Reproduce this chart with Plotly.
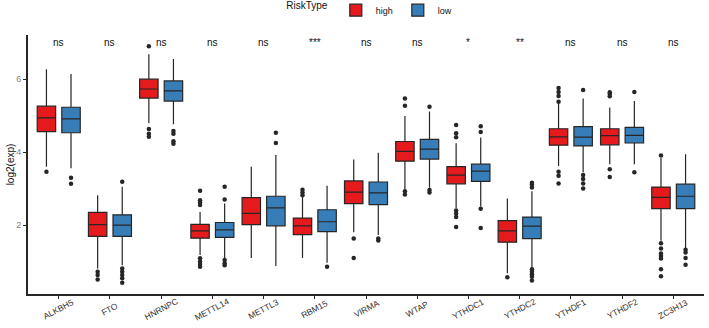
import plotly.graph_objects as go

genes = ["ALKBH5", "FTO", "HNRNPC", "METTL14", "METTL3", "RBM15", "VIRMA",
         "WTAP", "YTHDC1", "YTHDC2", "YTHDF1", "YTHDF2", "ZC3H13"]
signif = ["ns", "ns", "ns", "ns", "ns", "***", "ns", "ns", "*", "**", "ns", "ns", "ns"]

# high-risk group box statistics
high_lower = [3.60, 0.81, 4.79, 1.18, 1.10, 1.10, 1.80, 2.99, 2.46, 0.68, 3.62, 3.67, 1.57]
high_q1 = [4.56, 1.69, 5.48, 1.64, 2.01, 1.74, 2.59, 3.75, 3.13, 1.53, 4.19, 4.20, 2.45]
high_median = [4.94, 2.01, 5.73, 1.84, 2.32, 1.98, 2.90, 4.02, 3.37, 1.84, 4.42, 4.45, 2.76]
high_q3 = [5.26, 2.35, 6.00, 2.02, 2.75, 2.19, 3.21, 4.29, 3.60, 2.12, 4.64, 4.64, 3.04]
high_upper = [6.27, 2.82, 6.68, 2.36, 3.60, 2.77, 3.80, 4.99, 4.24, 2.73, 5.33, 5.22, 3.84]
high_outliers = [
    [3.46],
    [0.72, 0.63, 0.51],
    [6.90, 4.63, 4.50, 4.42],
    [2.94, 2.68, 2.62, 2.55, 1.09, 1.00, 0.93, 0.86],
    [],
    [2.97, 2.89, 2.82],
    [1.63, 1.10],
    [5.47, 5.27, 2.93, 2.84],
    [4.74, 4.52, 4.41, 2.40, 2.32, 2.22, 1.95],
    [0.57],
    [5.76, 5.65, 5.54, 5.38, 3.46, 3.35, 3.14],
    [5.64, 5.59, 5.53, 3.53, 3.32],
    [3.91, 1.50, 1.36, 1.22, 1.15, 1.08, 0.79, 0.60],
]

# low-risk group box statistics
low_lower = [3.56, 0.90, 4.76, 1.10, 0.88, 0.97, 1.73, 3.02, 2.51, 0.83, 3.45, 3.67, 1.36]
low_q1 = [4.53, 1.69, 5.40, 1.66, 1.98, 1.82, 2.56, 3.81, 3.20, 1.63, 4.17, 4.25, 2.45]
low_median = [4.91, 2.00, 5.68, 1.87, 2.47, 2.09, 2.88, 4.08, 3.48, 1.97, 4.41, 4.46, 2.79]
low_q3 = [5.23, 2.28, 5.95, 2.07, 2.79, 2.42, 3.18, 4.35, 3.67, 2.22, 4.70, 4.68, 3.12]
low_upper = [6.14, 3.05, 6.55, 2.59, 3.92, 3.08, 3.98, 5.11, 4.40, 2.93, 5.47, 5.40, 3.94]
low_outliers = [
    [3.30, 3.13],
    [3.19, 0.81, 0.72, 0.63, 0.54, 0.42],
    [4.58, 4.50, 4.30, 4.23],
    [3.05, 2.70, 1.04, 0.95, 0.90],
    [4.53, 4.25],
    [0.86],
    [1.63, 1.58],
    [5.24, 2.96, 2.89],
    [4.71, 4.55, 2.45, 1.92],
    [3.16, 3.11, 3.03, 0.79, 0.72, 0.65, 0.58, 0.48],
    [5.70, 3.37, 3.26, 3.14, 3.00],
    [5.65, 3.45],
    [1.32, 1.25, 1.10, 0.91],
]

RED = "#E41A1C"
BLUE = "#377EB8"
DARK = "#262626"
OFFSET = 0.24
BOXW = 0.36
FONT = "Liberation Sans, Arial"

idx = list(range(len(genes)))
fig = go.Figure()

groups = [
    ("high", RED, -OFFSET, high_lower, high_q1, high_median, high_q3, high_upper, high_outliers),
    ("low", BLUE, OFFSET, low_lower, low_q1, low_median, low_q3, low_upper, low_outliers),
]

for name, col, off, lf, q1, med, q3, uf, outs in groups:
    xs = [i + off for i in idx]
    fig.add_trace(go.Box(
        name=name, x=xs, q1=q1, median=med, q3=q3,
        lowerfence=lf, upperfence=uf, width=BOXW,
        fillcolor=col, line=dict(color=DARK, width=1.2),
        whiskerwidth=0, boxpoints=False, showlegend=True,
    ))
    ox, oy = [], []
    for i, vals in zip(idx, outs):
        for v in vals:
            ox.append(i + off)
            oy.append(v)
    fig.add_trace(go.Scatter(
        x=ox, y=oy, mode="markers", showlegend=False,
        marker=dict(color=DARK, size=4.5), hoverinfo="skip",
    ))

# significance labels above each gene
for i, lab in zip(idx, signif):
    fig.add_annotation(x=i, y=7.0, text=lab, showarrow=False,
                       font=dict(size=10, color="#111111", family=FONT),
                       xanchor="center", yanchor="middle")

# rotated category labels, centred under each tick (ggplot style)
for i, g in zip(idx, genes):
    fig.add_annotation(x=i, y=0, yref="paper", text=g, showarrow=False,
                       textangle=-28, xanchor="center", yanchor="middle",
                       yshift=-15,
                       font=dict(size=8.5, color="#333333", family=FONT))

fig.update_layout(
    width=709, height=328,
    margin=dict(l=28, r=5, t=35, b=34, autoexpand=False),
    paper_bgcolor="white", plot_bgcolor="white",
    font=dict(family=FONT, size=9, color="#333333"),
    legend=dict(
        orientation="h", x=0.507, xanchor="center", y=0.969, yanchor="middle",
        yref="container", itemwidth=30,
        title=dict(text="RiskType", font=dict(size=10, color="#111111"), side="left"),
        font=dict(size=9, color="#111111"),
    ),
    showlegend=True,
)

fig.update_xaxes(
    range=[-0.6, len(genes) - 0.4], tickmode="array", tickvals=idx, ticktext=genes,
    showticklabels=False, showgrid=False, zeroline=False, automargin=False,
    showline=True, linecolor=DARK, linewidth=1.8,
    ticks="outside", ticklen=3, tickcolor=DARK, tickwidth=1,
)
fig.update_yaxes(
    range=[0.11, 7.21], tickvals=[2, 4, 6], showgrid=False, zeroline=False,
    automargin=False,
    showline=True, linecolor=DARK, linewidth=1.8,
    ticks="outside", ticklen=3, tickcolor=DARK, tickwidth=1,
    tickfont=dict(size=9, color="#808080"),
    title=dict(text="log2(exp)", font=dict(size=10, color="#111111"), standoff=0),
)

fig.write_html(
    "out.html",
    config={"displayModeBar": False},
    post_script="document.body.style.margin='0';document.body.style.overflow='hidden';",
)
